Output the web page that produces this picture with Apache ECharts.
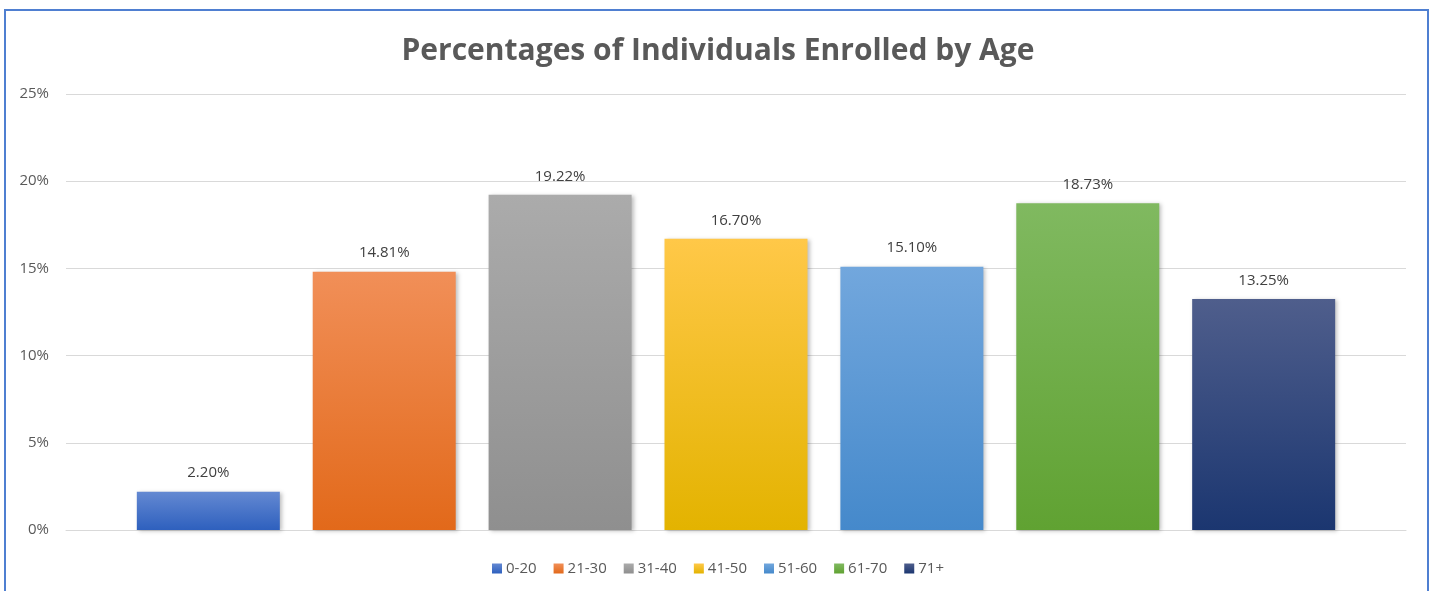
<!DOCTYPE html>
<html>
<head>
<meta charset="utf-8">
<script src="https://cdn.jsdelivr.net/npm/echarts@6/dist/echarts.min.js"></script>
<style>
    html, body { margin: 0; padding: 0; background: #fff; }
    #chart { width: 1436px; height: 591px; }
</style>
</head>
<body>
<div id="chart"></div>
<script>
    // age groups and share of enrolled individuals (%)
    var ageGroups = ['0-20', '21-30', '31-40', '41-50', '51-60', '61-70', '71+'];
    var percents = [2.20, 14.81, 19.22, 16.70, 15.10, 18.73, 13.25];
    var yTicks = [0, 5, 10, 15, 20, 25];

    // top / bottom colours of each bar gradient
    var colorTop = ['#6489d2', '#f18f58', '#ababab', '#ffc848', '#72a7dd', '#80b960', '#4f5e8c'];
    var colorBottom = ['#2e60be', '#e2691a', '#8f8f8f', '#e3b300', '#4589cb', '#60a232', '#1b3670'];

    var chart = echarts.init(document.getElementById('chart'));

    var series = [];
    for (var i = 0; i < ageGroups.length; i++) {
        series.push({
            name: ageGroups[i],
            type: 'bar',
            data: [percents[i]],
            barWidth: 143,
            barGap: '23%',
            itemStyle: {
                color: new echarts.graphic.LinearGradient(0, 0, 0, 1, [
                    { offset: 0, color: colorTop[i] },
                    { offset: 1, color: colorBottom[i] }
                ]),
                shadowBlur: 4,
                shadowOffsetX: 2,
                shadowOffsetY: 1,
                shadowColor: 'rgba(0,0,0,0.25)'
            },
            label: {
                show: true,
                position: 'top',
                distance: 11,
                color: '#404040',
                fontSize: 15,
                fontFamily: 'Open Sans',
                formatter: function (p) { return p.value.toFixed(2) + '%'; }
            }
        });
    }

    var option = {
        animation: false,
        backgroundColor: '#fff',
        title: {
            text: 'Percentages of Individuals Enrolled by Age',
            left: 'center',
            top: 31,
            textStyle: {
                color: '#595959',
                fontSize: 30,
                fontWeight: 'bold',
                fontFamily: 'Open Sans'
            }
        },
        legend: {
            data: ageGroups,
            bottom: 10,
            left: 'center',
            itemWidth: 10,
            itemHeight: 10,
            itemGap: 17,
            icon: 'rect',
            textStyle: { color: '#595959', fontSize: 15, fontFamily: 'Open Sans', padding: [0, 0, 0, -1] }
        },
        grid: {
            left: 66,
            right: 30,
            top: 94,
            bottom: 61
        },
        xAxis: {
            type: 'category',
            data: ['Age'],
            axisLine: { show: true, lineStyle: { color: '#d9d9d9', width: 1 } },
            axisTick: { show: false },
            axisLabel: { show: false }
        },
        yAxis: {
            type: 'value',
            min: yTicks[0],
            max: yTicks[yTicks.length - 1],
            interval: 5,
            axisLine: { show: false },
            axisTick: { show: false },
            splitLine: { lineStyle: { color: '#d9d9d9', width: 1 } },
            axisLabel: {
                margin: 17,
                color: '#595959',
                fontSize: 15,
                fontFamily: 'Open Sans',
                formatter: '{value}%'
            }
        },
        graphic: [{
            type: 'rect',
            shape: { x: 5, y: 10, width: 1423, height: 600 },
            style: { fill: 'none', stroke: '#4f7fd1', lineWidth: 2 },
            silent: true
        }],
        series: series
    };

    chart.setOption(option);
</script>
</body>
</html>
